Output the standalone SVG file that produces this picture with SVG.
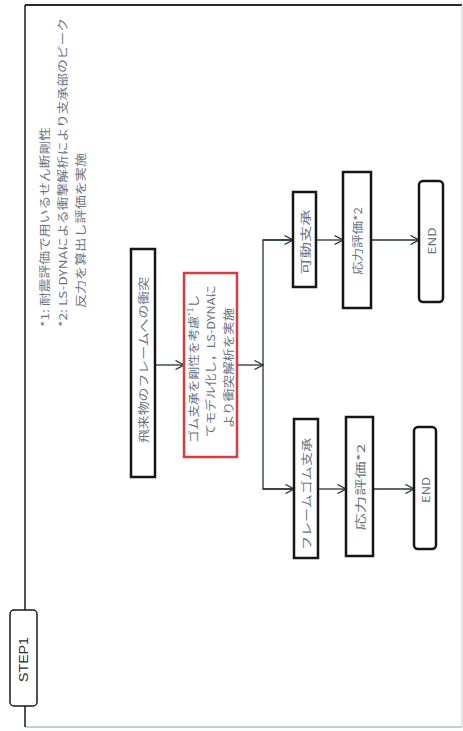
<svg xmlns="http://www.w3.org/2000/svg" width="463" height="731" viewBox="0 0 463 731">
<style>
.box{fill:#ffffff;stroke:#151515;stroke-width:2.5}
.red{fill:#ffffff;stroke:#dc3b3e;stroke-width:2.5}
.t{font-family:"Noto Sans CJK JP","Liberation Sans",sans-serif;font-size:11px;fill:#66707f;dominant-baseline:central;text-anchor:middle}
.ann{font-family:"Noto Sans CJK JP","Liberation Sans",sans-serif;font-size:11px;fill:#6a7484;dominant-baseline:central;text-anchor:start}
.conn{fill:none;stroke:#22343a;stroke-width:1.3}
</style>
<defs>
<marker id="arr" viewBox="0 0 10 10" refX="9.5" refY="5" markerWidth="10" markerHeight="10" markerUnits="userSpaceOnUse" orient="auto">
<path d="M1,0.5 L9.5,5 L1,9.5" fill="none" stroke="#22343a" stroke-width="1.3"/>
</marker>
</defs>
<rect width="463" height="731" fill="#ffffff"/>
<g id="frame">
<line x1="25" y1="5" x2="462" y2="5" stroke="#2a2a2a" stroke-width="2"/>
<line x1="462" y1="5" x2="462" y2="727" stroke="#c9c9c9" stroke-width="1"/>
<line x1="25" y1="727" x2="462" y2="727" stroke="#7fa6b8" stroke-width="1.2"/>
<line x1="25" y1="5" x2="25" y2="610" stroke="#1a1a1a" stroke-width="1.5"/>
<line x1="25" y1="706" x2="25" y2="727" stroke="#1a1a1a" stroke-width="1.5"/>
</g>
<g id="step1">
<rect x="10" y="610" width="27" height="96" rx="4" fill="#ffffff" stroke="#1a1a1a" stroke-width="1.5"/>
<text transform="translate(23.5,659.5) rotate(-90)" font-family="'Liberation Sans',sans-serif" font-size="13" fill="#2a2a2a" text-anchor="middle" dominant-baseline="central" textLength="45" lengthAdjust="spacingAndGlyphs">STEP1</text>
</g>
<g id="notes">
<text class="ann" transform="translate(44,327) rotate(-90)" textLength="200" lengthAdjust="spacingAndGlyphs">*1: 耐震評価で用いるせん断剛性</text>
<text class="ann" transform="translate(61.5,327) rotate(-90)" textLength="309" lengthAdjust="spacingAndGlyphs">*2: LS-DYNAによる衝撃解析により支承部のピーク</text>
<text class="ann" transform="translate(80,308) rotate(-90)" textLength="155" lengthAdjust="spacingAndGlyphs">反力を算出し評価を実施</text>
</g>
<g id="connectors">
<line class="conn" x1="155" y1="365" x2="184" y2="365" marker-end="url(#arr)"/>
<line class="conn" x1="237" y1="365" x2="263" y2="365" marker-end="url(#arr)"/>
<polyline class="conn" points="293,240 263,240 263,489 294,489"/>
<line class="conn" x1="263" y1="240" x2="293" y2="240" marker-end="url(#arr)"/>
<line class="conn" x1="263" y1="489" x2="294" y2="489" marker-end="url(#arr)"/>
<line class="conn" x1="316" y1="240" x2="343" y2="240" marker-end="url(#arr)"/>
<line class="conn" x1="371" y1="240" x2="419" y2="240" marker-end="url(#arr)"/>
<line class="conn" x1="318" y1="489" x2="346" y2="489" marker-end="url(#arr)"/>
<line class="conn" x1="373" y1="489" x2="414" y2="489" marker-end="url(#arr)"/>
</g>
<g id="impact">
<rect class="box" x="131" y="249" width="24" height="228"/>
<text class="t" transform="translate(143,360) rotate(-90)" textLength="166" lengthAdjust="spacingAndGlyphs">飛来物のフレームへの衝突</text>
</g>
<g id="analysis">
<rect class="red" x="184" y="273" width="53" height="184"/>
<text class="t" transform="translate(193,369) rotate(-90)" textLength="148" lengthAdjust="spacingAndGlyphs">ゴム支承を剛性を考慮<tspan font-size="7" dy="-3">*1</tspan><tspan dy="3">し</tspan></text>
<text class="t" transform="translate(210,361) rotate(-90)" textLength="152" lengthAdjust="spacingAndGlyphs">てモデル化し，LS-DYNAに</text>
<text class="t" transform="translate(228,368) rotate(-90)" textLength="120" lengthAdjust="spacingAndGlyphs">より衝突解析を実施</text>
</g>
<g id="movable">
<rect class="box" x="293" y="192" width="23" height="95"/>
<text class="t" transform="translate(304.5,242) rotate(-90)" textLength="65" lengthAdjust="spacingAndGlyphs">可動支承</text>
</g>
<g id="stress1">
<rect class="box" x="343" y="172" width="28" height="136"/>
<text class="t" transform="translate(357,241) rotate(-90)" textLength="68" lengthAdjust="spacingAndGlyphs">応力評価*2</text>
</g>
<g id="end1">
<rect class="box" x="419" y="181" width="24" height="121" rx="4"/>
<text class="t" transform="translate(431,241) rotate(-90)" font-family="'Liberation Sans',sans-serif" textLength="27" lengthAdjust="spacingAndGlyphs">END</text>
</g>
<g id="rubber">
<rect class="box" x="294" y="419" width="24" height="139"/>
<text class="t" transform="translate(306,494) rotate(-90)" textLength="112" lengthAdjust="spacingAndGlyphs">フレームゴム支承</text>
</g>
<g id="stress2">
<rect class="box" x="346" y="417" width="27" height="139"/>
<text class="t" transform="translate(359.5,487) rotate(-90)" textLength="87" lengthAdjust="spacingAndGlyphs">応力評価*2</text>
</g>
<g id="end2">
<rect class="box" x="414" y="427" width="22" height="122" rx="4"/>
<text class="t" transform="translate(425,490) rotate(-90)" font-family="'Liberation Sans',sans-serif" textLength="26" lengthAdjust="spacingAndGlyphs">END</text>
</g>
</svg>
